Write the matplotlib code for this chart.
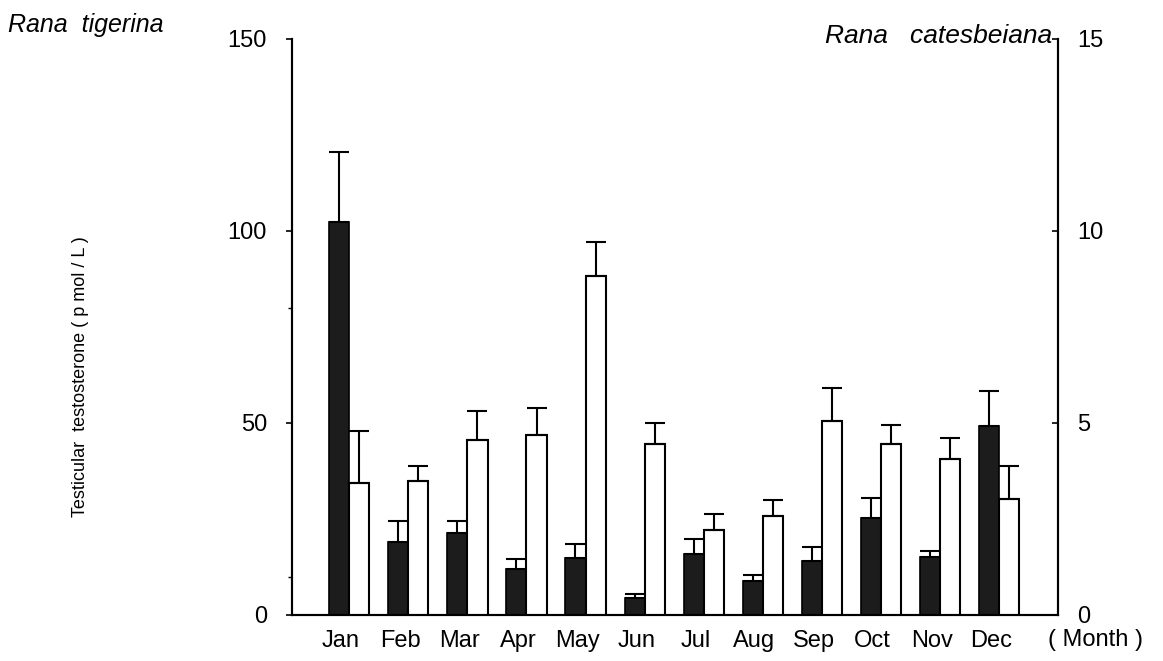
import numpy as np
import matplotlib
matplotlib.use("Agg")
import matplotlib.pyplot as plt

plt.rcParams['font.family'] = ['Liberation Sans', 'DejaVu Sans']

months = ['Jan', 'Feb', 'Mar', 'Apr', 'May', 'Jun', 'Jul', 'Aug', 'Sep', 'Oct', 'Nov', 'Dec']

# Rana tigerina (black bars, left axis, pmol/L)
tigerina_mean = [102.3, 19.0, 21.3, 11.9, 14.8, 4.4, 15.8, 8.8, 14.0, 25.2, 15.1, 49.1]
tigerina_err = [18.2, 5.4, 3.1, 2.6, 3.6, 1.0, 3.9, 1.6, 3.7, 5.2, 1.5, 9.3]

# Rana catesbeiana (white bars, right axis)
catesbeiana_mean = [3.45, 3.48, 4.57, 4.68, 8.83, 4.46, 2.21, 2.57, 5.04, 4.46, 4.05, 3.01]
catesbeiana_err = [1.35, 0.39, 0.73, 0.72, 0.88, 0.53, 0.41, 0.42, 0.88, 0.50, 0.55, 0.86]

left_ticks = [0, 50, 100, 150]
right_ticks = [0, 5, 10, 15]

x = np.arange(len(months))
w = 0.34

fig = plt.figure(figsize=(11.63, 6.61), dpi=100)
ax = fig.add_axes([0.2511, 0.0696, 0.6586, 0.8714])
ax2 = ax.twinx()

ax.bar(x, tigerina_mean, width=-w, align='edge', color='#1c1c1c',
       edgecolor='black', linewidth=1.2, zorder=2)
ax.errorbar(x - w / 2, tigerina_mean, yerr=[np.zeros(len(x)), tigerina_err],
            fmt='none', ecolor='black', elinewidth=1.5, capsize=7, capthick=1.5, zorder=3)

ax2.bar(x, catesbeiana_mean, width=w, align='edge', color='white',
        edgecolor='black', linewidth=1.5, zorder=2)
ax2.errorbar(x + w / 2, catesbeiana_mean, yerr=[np.zeros(len(x)), catesbeiana_err],
             fmt='none', ecolor='black', elinewidth=1.5, capsize=7, capthick=1.5, zorder=3)

ax.set_xlim(-0.97, 12.0)
ax.set_ylim(0, 150)
ax2.set_ylim(0, 15)

ax.set_xticks(x - 0.14)
ax.set_xticklabels(months, fontsize=17)
ax.tick_params(axis='x', length=0, pad=11)

ax.set_yticks(left_ticks)
ax.set_yticks([10, 80], minor=True)
ax.tick_params(axis='y', which='major', direction='out', length=4, width=1.2,
               labelsize=17, pad=14)
ax.tick_params(axis='y', which='minor', direction='out', length=3, width=1.0)

ax2.set_yticks(right_ticks)
ax2.tick_params(axis='y', direction='in', length=4, width=1.2, labelsize=17, pad=14)

for a in (ax, ax2):
    a.spines['top'].set_visible(False)
    for s in ('left', 'right', 'bottom'):
        a.spines[s].set_linewidth(1.5)

fig.text(8 / 1163, 1 - 25 / 661, 'Rana  tigerina', style='italic', fontsize=18,
         ha='left', va='center')
fig.text(1052 / 1163, 1 - 36 / 661, 'Rana   catesbeiana', style='italic', fontsize=19,
         ha='right', va='center')
fig.text(1095 / 1163, 1 - 640 / 661, '( Month )', fontsize=17, ha='center', va='center')
fig.text(81 / 1163, 1 - 377 / 661, 'Testicular  testosterone ( p mol / L )', fontsize=13,
         rotation=90, ha='center', va='center')

fig.savefig('out.png', dpi=100, facecolor='white')
